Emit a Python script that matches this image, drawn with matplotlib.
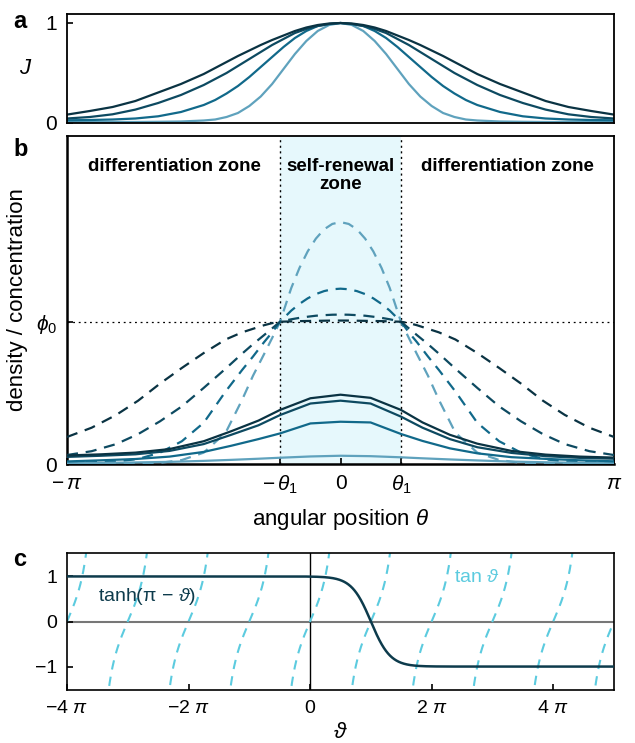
import numpy as np
import matplotlib
matplotlib.use('Agg')
import matplotlib.pyplot as plt

plt.rcParams['font.family'] = ['Liberation Sans', 'DejaVu Sans']
plt.rcParams['mathtext.fontset'] = 'custom'
plt.rcParams['mathtext.rm'] = 'Liberation Sans'
plt.rcParams['mathtext.it'] = 'Liberation Sans:italic'
plt.rcParams['mathtext.fallback'] = 'stix'

# line colours, lightest -> darkest
shades = ['#5fa2bd', '#11698a', '#0d4a61', '#0a3343']

# panel a: J(theta), theta/pi from 0 to 1 (symmetric)
a_half = np.array([0, 1, 2, 3, 4, 5, 6, 7, 8, 9, 10, 11, 12,
                   14, 16, 18, 20, 22, 24]) / 24.0
J_1 = [1.0, 0.98, 0.92, 0.82, 0.69, 0.54, 0.39, 0.265, 0.17, 0.10, 0.06,
       0.035, 0.025, 0.015, 0.012, 0.01, 0.01, 0.01, 0.01]
J_2 = [1.0, 0.99, 0.97, 0.92, 0.85, 0.76, 0.66, 0.56, 0.46, 0.37, 0.295,
       0.23, 0.18, 0.11, 0.067, 0.045, 0.035, 0.03, 0.027]
J_3 = [1.0, 0.99, 0.97, 0.94, 0.90, 0.84, 0.78, 0.71, 0.64, 0.57, 0.50,
       0.44, 0.38, 0.28, 0.20, 0.134, 0.087, 0.06, 0.045]
J_4 = [1.0, 0.995, 0.98, 0.955, 0.92, 0.875, 0.83, 0.78, 0.725, 0.67, 0.61,
       0.55, 0.49, 0.39, 0.305, 0.22, 0.16, 0.12, 0.084]

# panel b: dashed concentration profiles (symmetric), theta/pi from 0 to 1
theta_1 = 0.221  # in units of pi
b_half = np.array([0, 0.03, 0.06, 0.09, 0.12, 0.15, 0.18, theta_1, 0.25,
                   0.28, 0.32, 0.36, 0.42, 0.5, 0.58, 0.66, 0.74, 0.82,
                   0.91, 1.0])
conc_1 = [1.70, 1.687, 1.649, 1.584, 1.494, 1.378, 1.237, 1.0, 0.885, 0.77,
          0.62, 0.45, 0.22, 0.08, 0.028, 0.008, 0.002, 0.0, 0.0, 0.0]
conc_2 = [1.232, 1.228, 1.215, 1.194, 1.164, 1.125, 1.078, 1.0, 0.925,
          0.855, 0.755, 0.66, 0.51, 0.29, 0.16, 0.08, 0.035, 0.018, 0.012,
          0.01]
conc_3 = [1.05, 1.049, 1.046, 1.042, 1.035, 1.027, 1.017, 1.0, 0.953, 0.905,
          0.842, 0.775, 0.67, 0.535, 0.405, 0.30, 0.21, 0.14, 0.09, 0.063]
conc_4 = [1.008, 1.008, 1.007, 1.006, 1.005, 1.004, 1.002, 1.0, 0.99, 0.975,
          0.95, 0.925, 0.875, 0.78, 0.675, 0.565, 0.445, 0.345, 0.255, 0.19]

# panel b: solid density profiles, theta/pi over the full range
b_full = np.array([-1, -0.875, -0.75, -0.625, -0.5, -0.4, -0.3, -theta_1,
                   -0.11, 0, 0.11, theta_1, 0.3, 0.4, 0.5, 0.625, 0.75,
                   0.875, 1])
dens_1 = [0.005, 0.008, 0.011, 0.015, 0.022, 0.029, 0.037, 0.044, 0.053,
          0.058, 0.055, 0.047, 0.040, 0.032, 0.025, 0.017, 0.012, 0.008,
          0.005]
dens_2 = [0.018, 0.026, 0.035, 0.052, 0.085, 0.128, 0.175, 0.215, 0.285,
          0.297, 0.292, 0.211, 0.162, 0.110, 0.075, 0.048, 0.036, 0.026,
          0.019]
dens_3 = [0.050, 0.058, 0.068, 0.092, 0.140, 0.205, 0.272, 0.344, 0.425,
          0.445, 0.425, 0.333, 0.255, 0.175, 0.118, 0.078, 0.055, 0.043,
          0.037]
dens_4 = [0.060, 0.068, 0.080, 0.105, 0.160, 0.230, 0.305, 0.380, 0.462,
          0.487, 0.465, 0.380, 0.292, 0.205, 0.143, 0.092, 0.066, 0.052,
          0.045]

phi_0 = 1.0

# panel c: the two functions named on the plot
c_xlim = (-4 * np.pi, 5 * np.pi)
c_xticks = [-4, -2, 0, 2, 4]


def mirror(half, vals):
    x = np.concatenate([-half[::-1], half[1:]]) * np.pi
    v = np.asarray(vals)
    y = np.concatenate([v[::-1], v[1:]])
    return x, y


def style_axes(ax, lw=1.3):
    for s in ax.spines.values():
        s.set_linewidth(lw)
    ax.tick_params(direction='in', length=4, width=1.2, labelsize=15, pad=7)


fig = plt.figure(figsize=(6.35, 7.43), dpi=100)
H = 743.0
W = 635.0
left = 67 / W
width = 547 / W

# ---- a ----
ax = fig.add_axes([left, 1 - 123 / H, width, 109 / H])
for J, c in zip([J_1, J_2, J_3, J_4], shades):
    x, y = mirror(a_half, J)
    ax.plot(x, y, color=c, lw=1.6)
ax.set_xlim(-np.pi, np.pi)
ax.set_ylim(0, 1.09)
ax.set_xticks([])
ax.set_yticks([0, 1])
ax.set_ylabel('$J$', fontsize=16, rotation=0, labelpad=14, va='center')
style_axes(ax)

# ---- b ----
ax = fig.add_axes([left, 1 - 464 / H, width, 328 / H])
t1 = theta_1 * np.pi
ax.axvspan(-t1, t1, color='#e6f8fc', lw=0, zorder=0)
ax.axvline(-t1, color='k', ls=(0, (1.5, 2.5)), lw=1.0, zorder=1)
ax.axvline(t1, color='k', ls=(0, (1.5, 2.5)), lw=1.0, zorder=1)
ax.axhline(phi_0, color='k', ls=(0, (1.5, 3)), lw=0.9, zorder=1)
for d, c in zip([conc_1, conc_2, conc_3, conc_4], shades):
    x, y = mirror(b_half, d)
    ax.plot(x, y, color=c, lw=1.6, ls=(0, (5, 3.5)), zorder=3)
for d, c in zip([dens_1, dens_2, dens_3, dens_4], shades):
    ax.plot(b_full * np.pi, d, color=c, lw=1.6, zorder=3)
ax.set_xlim(-np.pi, np.pi)
ax.set_ylim(0, 2.305)
ax.set_xticks([-np.pi, -t1, 0, t1, np.pi])
ax.set_xticklabels([r'$-\,\pi$', r'$-\,\theta_1$', '0', r'$\theta_1$', r'$\pi$'])
ax.set_yticks([0, phi_0])
ax.set_yticklabels(['0', r'$\phi_0$'])
ax.set_xlabel(r'angular position $\theta$', fontsize=16, labelpad=8)
ax.set_ylabel('density / concentration', fontsize=16, labelpad=6)
zone_y = 2.15
ax.text(-1.913, zone_y, 'differentiation zone', ha='center', va='top',
        fontsize=13.5, fontweight='bold')
ax.text(1.918, zone_y, 'differentiation zone', ha='center', va='top',
        fontsize=13.5, fontweight='bold')
ax.text(0, zone_y, 'self-renewal\nzone', ha='center', va='top',
        fontsize=13.5, fontweight='bold', linespacing=1.05)
style_axes(ax)
ax.spines['left'].set_linewidth(1.8)
ax.spines['bottom'].set_linewidth(1.8)

# ---- c ----
ax = fig.add_axes([left, 1 - 690 / H, width, 137 / H])
v = np.linspace(c_xlim[0], c_xlim[1], 4000)
tan_v = np.tan(v)
tan_v[np.abs(tan_v) > 1.8] = np.nan
ax.axhline(0, color='#777777', lw=1.5, zorder=1)
ax.axvline(0, color='k', lw=1.0, zorder=1)
ax.plot(v, tan_v, color='#5ccbdf', lw=1.5, ls=(0, (4.5, 3.5)), zorder=2)
ax.plot(v, np.tanh(np.pi - v), color='#0d3b4c', lw=1.8, zorder=3)
ax.set_xlim(*c_xlim)
ax.set_ylim(-1.52, 1.52)
ax.set_xticks([k * np.pi for k in c_xticks])
ax.set_xticklabels([r'$-4\ \pi$', r'$-2\ \pi$', '0', r'$2\ \pi$', r'$4\ \pi$'])
ax.set_yticks([-1, 0, 1])
ax.set_yticklabels(['\u22121', '0', '1'])
ax.text(-10.97, 0.55, 'tanh(\u03c0 \u2212 $\\vartheta$)', color='#0d3b4c',
        fontsize=14, ha='left', va='center')
ax.text(7.42, 0.98, r'tan $\vartheta$', color='#5ccbdf', fontsize=14,
        ha='left', va='center')
ax.set_xlabel(r'$\vartheta$', fontsize=16, labelpad=4)
style_axes(ax, lw=1.2)
ax.tick_params(labelsize=14)

fig.text(20 / W, 1 - 22 / H, 'a', fontsize=17, fontweight='bold', ha='center', va='center')
fig.text(21 / W, 1 - 149 / H, 'b', fontsize=17, fontweight='bold', ha='center', va='center')
fig.text(20 / W, 1 - 560 / H, 'c', fontsize=17, fontweight='bold', ha='center', va='center')

fig.savefig('out.png', dpi=100)
